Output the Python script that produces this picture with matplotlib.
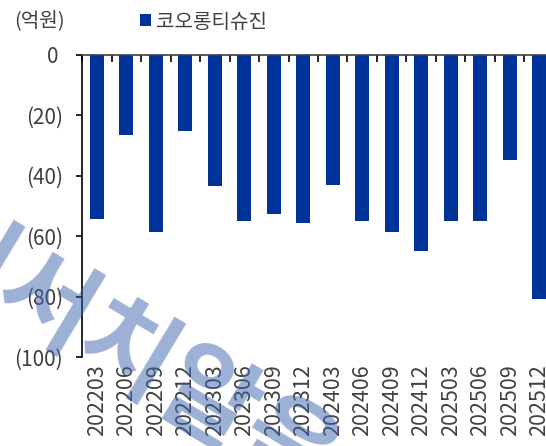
import matplotlib
matplotlib.use("Agg")
import matplotlib.pyplot as plt
import numpy as np

plt.rcParams['font.family'] = ['Noto Sans CJK KR', 'DejaVu Sans']

quarters = ["202203", "202206", "202209", "202212", "202303", "202306", "202309", "202312",
            "202403", "202406", "202409", "202412", "202503", "202506", "202509", "202512"]
values = [-54.3, -26.5, -58.6, -25.2, -43.3, -54.9, -52.7, -55.6,
          -43.0, -54.9, -58.6, -65.0, -54.9, -54.9, -34.9, -80.6]
series_name = "코오롱티슈진"
unit_label = "(억원)"
yticks = [0, -20, -40, -60, -80, -100]
ytick_labels = ["0 ", "(20)", "(40)", "(60)", "(80)", "(100)"]

W, H = 546, 446
fig = plt.figure(figsize=(W / 100, H / 100), dpi=100)
ax = fig.add_axes([82.2 / W, (H - 357.3) / H, (553.8 - 82.2) / W, (357.3 - 54.7) / H])

x = np.arange(len(quarters))
bars = ax.bar(x, values, width=0.475, color="#003399", label=series_name, zorder=2)

ax.set_xlim(-0.5, len(quarters) - 0.5)
ax.set_ylim(-100, 0)
ax.set_yticks(yticks)
ax.set_yticklabels(ytick_labels, fontsize=15, color="#404040")
ax.tick_params(axis='y', direction='out', length=4, width=1.2, pad=10, color="#000000")

ax.set_xticks(x)
ax.set_xticklabels(quarters, rotation=90, fontsize=15.5, color="#404040")
ax.tick_params(axis='x', which='major', length=0, pad=5, bottom=False, top=False)
ax.set_xticks(np.arange(len(quarters) + 1) - 0.5, minor=True)
ax.tick_params(axis='x', which='minor', top=True, bottom=False, direction='in', length=5,
               width=1.2, color="#000000")

for s in ['bottom', 'right']:
    ax.spines[s].set_visible(False)
ax.spines['top'].set_color("#404040")
ax.spines['top'].set_linewidth(1.2)
ax.spines['left'].set_color("#000000")
ax.spines['left'].set_linewidth(1.2)

leg = fig.legend(handles=[bars], labels=[series_name], loc='center left',
                 bbox_to_anchor=(140 / W, 1 - 22 / H), frameon=False, fontsize=14.5,
                 handlelength=0.55, handleheight=0.55, handletextpad=0.25,
                 borderpad=0, borderaxespad=0)
for t in leg.get_texts():
    t.set_color("#404040")

fig.text(14 / W, 1 - 22 / H, unit_label, fontsize=14.5, color="#404040", ha='left', va='center')

# watermark
fig.text(126 / W, 1 - 358 / H, "리서치알음", fontsize=74, fontweight='bold', color="#3a62ad", alpha=0.5,
         rotation=-31, ha='center', va='center', rotation_mode='anchor', zorder=10)

fig.savefig("out.png", dpi=100)
